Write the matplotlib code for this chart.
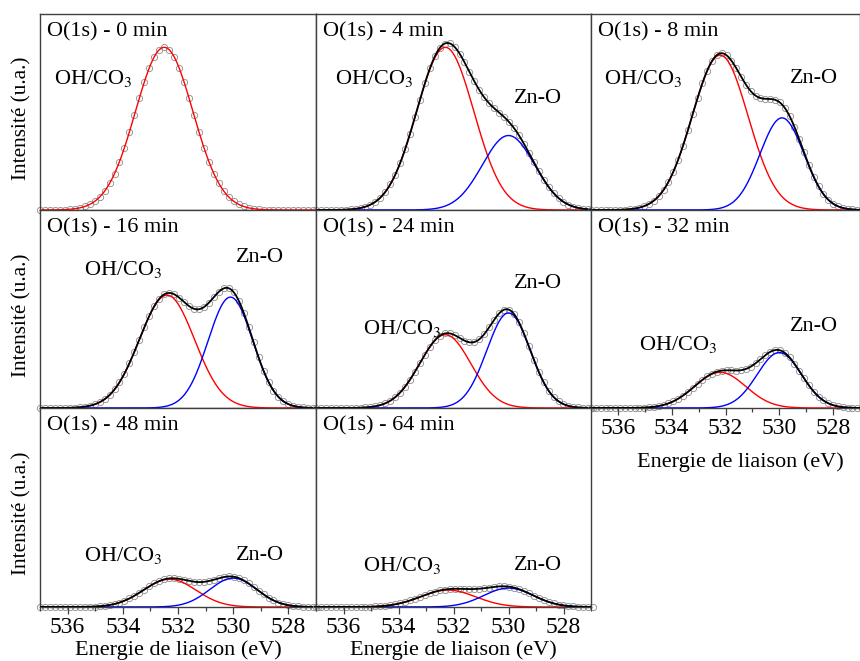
import numpy as np
import matplotlib
matplotlib.use('Agg')
import matplotlib.pyplot as plt
from matplotlib.ticker import MultipleLocator

plt.rcParams['font.family'] = ['Liberation Serif', 'DejaVu Serif']
plt.rcParams['mathtext.fontset'] = 'stix'

# etch times (min) and fitted O(1s) components
times = [0, 4, 8, 16, 24, 32, 48, 64]
# OH/CO3 component: height, centre (eV), sigma (eV)
oh_height = [0.83, 0.83, 0.79, 0.57, 0.37, 0.18, 0.14, 0.085]
oh_center = [532.5, 532.3, 532.2, 532.4, 532.3, 532.2, 532.3, 532.2]
oh_sigma = [1.04, 1.04, 1.04, 1.0, 0.93, 0.95, 0.95, 1.0]
# Zn-O component
zn_height = [0.0, 0.38, 0.47, 0.56, 0.48, 0.28, 0.145, 0.095]
zn_center = [530.0, 530.0, 529.9, 530.1, 530.0, 530.0, 530.0, 530.0]
zn_sigma = [0.9, 0.95, 0.82, 0.81, 0.79, 0.82, 0.85, 0.9]

# label positions (x in eV, y in axis units) for OH/CO3 and Zn-O
oh_lab = [(536.5, 0.67), (536.3, 0.67), (536.5, 0.67), (535.4, 0.70),
          (535.3, 0.40), (535.2, 0.32), (535.4, 0.26), (535.3, 0.21)]
zn_lab = [None, (529.8, 0.57), (529.6, 0.67), (529.9, 0.76),
          (529.8, 0.63), (529.6, 0.41), (529.9, 0.26), (529.8, 0.21)]

def gauss(x, h, c, s):
    return h * np.exp(-0.5 * ((x - c) / s) ** 2)

x_fit = np.linspace(537, 527, 500)
x_dat = np.arange(537.0, 526.9, -0.18)

fig = plt.figure(figsize=(8.6, 6.61), dpi=100)
col_x = [40, 316, 591, 860]
row_y = [14, 210, 408, 607]
W, H = 860.0, 661.0

for i, t in enumerate(times):
    r, c = divmod(i, 3)
    left = col_x[c] / W
    width = (col_x[c + 1] - col_x[c]) / W
    bottom = 1 - row_y[r + 1] / H
    height = (row_y[r + 1] - row_y[r]) / H
    ax = fig.add_axes([left, bottom, width, height])

    oh = gauss(x_fit, oh_height[i], oh_center[i], oh_sigma[i])
    zn = gauss(x_fit, zn_height[i], zn_center[i], zn_sigma[i])
    env_d = gauss(x_dat, oh_height[i], oh_center[i], oh_sigma[i]) + \
        gauss(x_dat, zn_height[i], zn_center[i], zn_sigma[i])

    ax.plot(x_dat, env_d, 'o', mfc='none', mec='#8c8c8c', ms=4.5, mew=0.6,
            clip_on=False, zorder=1)
    ax.plot(x_fit, oh, color='red', lw=1.0, zorder=3)
    if zn_height[i] > 0:
        ax.plot(x_fit, zn, color='blue', lw=1.0, zorder=3)
        ax.plot(x_fit, oh + zn, color='black', lw=1.3, zorder=4)

    ax.set_xlim(537, 527)
    ax.set_ylim(0, 1)
    ax.set_yticks([])
    ax.xaxis.set_major_locator(MultipleLocator(2))
    ax.xaxis.set_minor_locator(MultipleLocator(1))
    ax.tick_params(axis='x', which='major', direction='out', length=5,
                   width=0.9, color='#404040', labelsize=17, pad=2)
    ax.tick_params(axis='x', which='minor', direction='out', length=3,
                   width=0.9, color='#404040')
    for sp in ax.spines.values():
        sp.set_color('#404040')
        sp.set_linewidth(1.0)

    if r == 2:
        ax.set_xticks([536, 534, 532, 530, 528])
        ax.set_xlabel('Energie de liaison (eV)', fontsize=16, labelpad=2)
    elif i == 5:
        ax.set_xticks([536, 534, 532, 530, 528])
        ax.set_xlabel('Energie de liaison (eV)', fontsize=16, labelpad=10)
        ax.xaxis.label.set_x(0.554)
    else:
        ax.tick_params(axis='x', labelbottom=False)
    if c == 0:
        ax.set_ylabel('Intensité (u.a.)', fontsize=15.3, labelpad=6)
        ax.yaxis.label.set_y(0.47)

    ax.text(0.025, 0.91, 'O(1s) - %d min' % t, transform=ax.transAxes,
            fontsize=16, va='center', ha='left')
    ax.text(oh_lab[i][0], oh_lab[i][1], 'OH/CO$_3$', fontsize=16,
            va='center', ha='left')
    if zn_lab[i] is not None:
        ax.text(zn_lab[i][0], zn_lab[i][1], 'Zn-O', fontsize=16,
                va='center', ha='left')

fig.savefig('out.png', dpi=100)
